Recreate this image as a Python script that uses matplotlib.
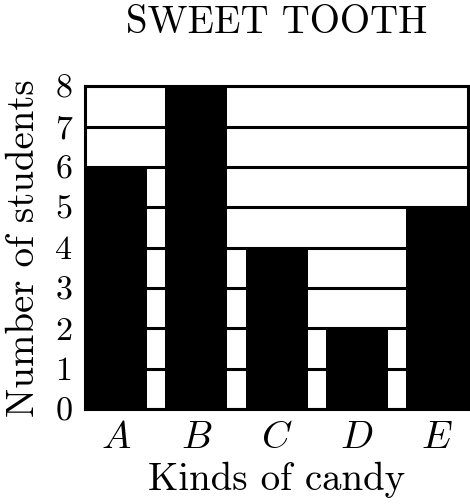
import numpy as np
import matplotlib
matplotlib.use("Agg")
import matplotlib.pyplot as plt

plt.rcParams['font.family'] = 'serif'
plt.rcParams['font.serif'] = ['cmr10']
plt.rcParams['mathtext.fontset'] = 'cm'
plt.rcParams['axes.unicode_minus'] = False

candy = ['A', 'B', 'C', 'D', 'E']
students = [6, 8, 4, 2, 5]
yticks = [0, 1, 2, 3, 4, 5, 6, 7, 8]

fig = plt.figure(figsize=(4.70, 5.04), dpi=100)
ax = fig.add_axes([0.181, 0.188, 0.815, 0.641])

w = 0.77
x = np.arange(len(candy))
for y in yticks:
    ax.axhline(y, color='black', lw=2.2, zorder=1)
ax.bar(x, students, width=w, color='black', zorder=2)

ax.set_xlim(-w / 2, len(candy) - 1 + w / 2)
ax.set_ylim(0, 8)
ax.set_xticks(x)
ax.set_xticklabels(['$%s$' % c for c in candy], fontsize=28)
ax.set_yticks(yticks)
ax.set_yticklabels([str(v) for v in yticks], fontsize=24.5)
ax.tick_params(length=0)
ax.tick_params(axis='y', pad=9)
ax.tick_params(axis='x', pad=8)
for s in ax.spines.values():
    s.set_linewidth(2.2)
    s.set_zorder(3)

ax.set_xlabel('Kinds of candy', fontsize=28, labelpad=4)
ax.set_ylabel('Number of students', fontsize=28, labelpad=10)
ax.set_title('SWEET TOOTH', fontsize=28, pad=38)

fig.savefig('out.png', dpi=100)
